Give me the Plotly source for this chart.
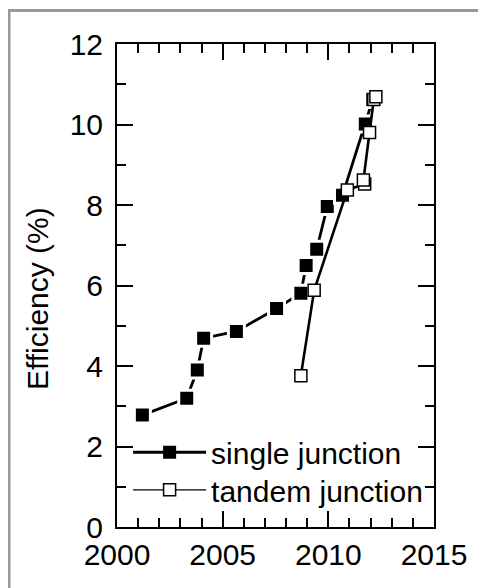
import plotly.graph_objects as go

single_year = [2001.2, 2003.3, 2003.8, 2004.1, 2005.65, 2007.55, 2008.7, 2008.95, 2009.45, 2009.95, 2010.67, 2011.75, 2012.1]
single_eff = [2.78, 3.20, 3.90, 4.69, 4.86, 5.43, 5.81, 6.50, 6.90, 7.96, 8.24, 10.01, 10.62]

tandem_year = [2008.7, 2009.33, 2010.9, 2011.72, 2011.66, 2011.95, 2012.15, 2012.25]
tandem_eff = [3.76, 5.88, 8.37, 8.52, 8.62, 9.80, 10.62, 10.69]

x_ticks = [2000, 2005, 2010, 2015]
y_ticks = [0, 2, 4, 6, 8, 10, 12]

FONT = "Arial, Liberation Sans, sans-serif"

fig = go.Figure()

# data traces
fig.add_trace(go.Scatter(
    x=single_year, y=single_eff, mode="lines+markers", showlegend=False,
    line=dict(color="black", width=2.8),
    marker=dict(symbol="square", size=16, color="black",
                line=dict(color="white", width=3)),
))
fig.add_trace(go.Scatter(
    x=tandem_year, y=tandem_eff, mode="lines+markers", showlegend=False,
    line=dict(color="black", width=2.6),
    marker=dict(symbol="square", size=12, color="white",
                line=dict(color="black", width=1.5)),
))
# legend entries
fig.add_trace(go.Scatter(
    x=[None], y=[None], mode="lines+markers", name="single junction",
    legend="legend",
    line=dict(color="black", width=3),
    marker=dict(symbol="square", size=13, color="black"),
))
fig.add_trace(go.Scatter(
    x=[None], y=[None], mode="lines+markers", name="tandem junction",
    legend="legend2",
    line=dict(color="black", width=1.3),
    marker=dict(symbol="square", size=12, color="white",
                line=dict(color="black", width=1.5)),
))

axis_common = dict(
    showline=True, linecolor="black", linewidth=2, mirror="allticks",
    ticks="inside", ticklen=16, tickwidth=2, tickcolor="black",
    showgrid=False, zeroline=False,
    tickfont=dict(family=FONT, size=30, color="black"),
)

fig.update_xaxes(
    range=[2000, 2015], tickvals=x_ticks, ticktext=[str(v) for v in x_ticks],
    minor=dict(dtick=1, tick0=2000, ticks="inside", ticklen=9, tickwidth=2,
               tickcolor="black", showgrid=False),
    **axis_common,
)
fig.update_yaxes(
    range=[0, 12], tickvals=y_ticks, ticktext=[str(v) for v in y_ticks],
    minor=dict(dtick=1, tick0=0, ticks="inside", ticklen=9, tickwidth=2,
               tickcolor="black", showgrid=False),
    ticklabelstandoff=6,
    **axis_common,
)

legend_common = dict(xanchor="left", yanchor="middle", bgcolor="rgba(0,0,0,0)",
                     itemwidth=73, font=dict(family=FONT, size=30, color="black"))

fig.update_layout(
    width=478, height=580,
    margin=dict(l=109, r=52, t=36, b=61, autoexpand=False),
    paper_bgcolor="white", plot_bgcolor="white",
    font=dict(family=FONT, size=30, color="black"),
    legend=dict(x=0.035, y=0.155, **legend_common),
    legend2=dict(x=0.035, y=0.077, **legend_common),
    annotations=[dict(text="Efficiency (%)", xref="paper", yref="paper",
                      x=-0.2524, y=0.474, xanchor="center", yanchor="middle",
                      textangle=-90, showarrow=False,
                      font=dict(family=FONT, size=30, color="black"))],
    shapes=[dict(type="rect", xref="paper", yref="paper",
                 x0=-0.3407, x1=1.2, y0=-0.2, y1=1.0694,
                 line=dict(color="#999999", width=3), layer="below")],
)

fig.write_html("out.html")
